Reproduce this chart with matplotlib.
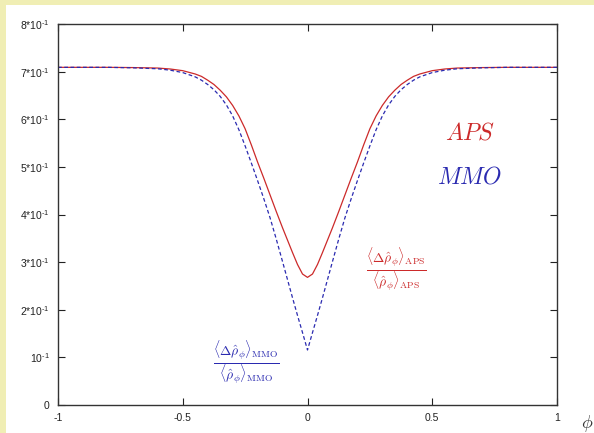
import matplotlib
matplotlib.use("Agg")
import matplotlib.pyplot as plt
from matplotlib.patches import Rectangle

# ---- data ----
phi_half = [0.0, 0.02, 0.04, 0.06, 0.08, 0.10, 0.125, 0.15, 0.175, 0.20, 0.225, 0.25,
            0.275, 0.30, 0.325, 0.35, 0.375, 0.40, 0.425, 0.45, 0.50, 0.55, 0.60, 0.70, 0.80, 1.0]
aps_half = [0.268, 0.275, 0.295, 0.320, 0.346, 0.372, 0.406, 0.441, 0.476, 0.510, 0.546, 0.580,
            0.607, 0.629, 0.647, 0.661, 0.673, 0.682, 0.690, 0.695, 0.702, 0.7055, 0.7075, 0.7085, 0.709, 0.709]
mmo_half = [0.1155, 0.152, 0.188, 0.225, 0.263, 0.301, 0.348, 0.393, 0.433, 0.471, 0.508, 0.544,
            0.578, 0.607, 0.630, 0.648, 0.662, 0.673, 0.682, 0.689, 0.698, 0.703, 0.706, 0.708, 0.709, 0.709]

# curve is symmetric in phi
phi = [-p for p in phi_half[:0:-1]] + phi_half
aps = aps_half[:0:-1] + aps_half
mmo = mmo_half[:0:-1] + mmo_half

xticks = [-1, -0.5, 0, 0.5, 1]
xticklabels = ["-1", "-0.5", "0", "0.5", "1"]
yticks = [0, 0.1, 0.2, 0.3, 0.4, 0.5, 0.6, 0.7, 0.8]
yticklabels = ["0", r"10$^{\text{-1}}$", r"2*10$^{\text{-1}}$", r"3*10$^{\text{-1}}$",
               r"4*10$^{\text{-1}}$", r"5*10$^{\text{-1}}$", r"6*10$^{\text{-1}}$",
               r"7*10$^{\text{-1}}$", r"8*10$^{\text{-1}}$"]

RED = "#cc2a2a"
BLUE = "#2a2ab0"

plt.rcParams["font.family"] = ["Liberation Sans", "DejaVu Sans"]
plt.rcParams["mathtext.fontset"] = "custom"
plt.rcParams["mathtext.rm"] = "Liberation Sans"
plt.rcParams["mathtext.it"] = "Liberation Sans:italic"
plt.rcParams["mathtext.bf"] = "Liberation Sans:bold"

W, H = 594, 433
fig = plt.figure(figsize=(W / 100, H / 100), dpi=100, facecolor="#f0eeb4")
fig.patches.append(Rectangle((6 / W, 0), 1 - 6 / W, 1 - 5 / H, transform=fig.transFigure,
                             facecolor="white", edgecolor="none", zorder=-5))

ax = fig.add_axes([58 / W, 28 / H, 499 / W, 381 / H])
ax.set_zorder(2)
ax.set_facecolor("white")
ax.plot(phi, aps, color=RED, lw=0.9)
ax.plot(phi, mmo, color=BLUE, lw=0.9, ls=(0, (3, 2)))

ax.set_xlim(-1, 1)
ax.set_ylim(0, 0.8)
ax.set_xticks(xticks)
ax.set_xticklabels(xticklabels)
ax.set_yticks(yticks)
ax.set_yticklabels(yticklabels)
ax.tick_params(direction="in", length=5, width=0.8, top=True, right=True,
               labelsize=7.5, colors="#222222", pad=6)
for s in ax.spines.values():
    s.set_linewidth(1.0)
    s.set_color("#333333")

ax.text(0.65, 0.571, r"$APS$", color=RED, fontsize=17, ha="center", va="center",
        math_fontfamily="cm")
ax.text(0.65, 0.477, r"$MMO$", color=BLUE, fontsize=17, ha="center", va="center",
        math_fontfamily="cm")
ax.text(0.357, 0.283,
        r"$\frac{\langle\Delta\hat{\rho}_\phi\rangle_{\rm APS}}{\langle\hat{\rho}_\phi\rangle_{\rm APS}}$",
        color=RED, fontsize=14, ha="center", va="center", math_fontfamily="cm")
ax.text(-0.245, 0.088,
        r"$\frac{\langle\Delta\hat{\rho}_\phi\rangle_{\rm MMO}}{\langle\hat{\rho}_\phi\rangle_{\rm MMO}}$",
        color=BLUE, fontsize=14, ha="center", va="center", math_fontfamily="cm")

fig.text(587 / W, 1 - 423 / H, r"$\phi$", fontsize=13, color="#333333", ha="center",
         va="center", math_fontfamily="cm")

fig.savefig("out.png", dpi=100, facecolor=fig.get_facecolor())
